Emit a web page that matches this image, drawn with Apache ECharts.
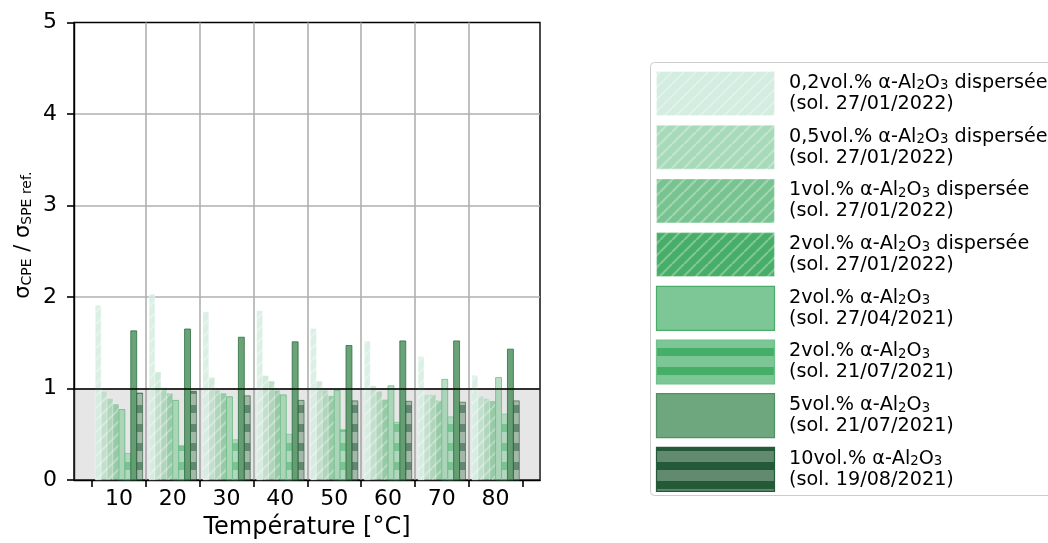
<!DOCTYPE html>
<html>
<head>
<meta charset="utf-8">
<script src="https://cdn.jsdelivr.net/npm/echarts@6/dist/echarts.min.js"></script>
<style>
html,body{margin:0;padding:0;background:#fff;}
#c{width:1048px;height:543px;}
</style>
</head>
<body>
<div id="c"></div>
<script>
// ---- data ----
const temps = [10, 20, 30, 40, 50, 60, 70, 80];
const gridTicks = [5, 15, 25, 35, 45, 55, 65, 75, 85];
const disp02 = [1.91, 2.03, 1.84, 1.85, 1.655, 1.52, 1.35, 1.145];
const disp05 = [0.97, 1.18, 1.12, 1.14, 1.08, 1.03, 0.935, 0.92];
const disp1 = [0.89, 1.01, 0.98, 1.08, 0.98, 0.97, 0.935, 0.89];
const disp2 = [0.83, 0.95, 0.95, 0.98, 0.92, 0.88, 0.87, 0.865];
const vol2_270421 = [0.77, 0.87, 0.91, 0.93, 0.98, 1.03, 1.10, 1.12];
const vol2_210721 = [0.29, 0.375, 0.44, 0.50, 0.55, 0.63, 0.69, 0.72];
const vol5_210721 = [1.63, 1.65, 1.56, 1.51, 1.47, 1.52, 1.52, 1.43];
const vol10_190821 = [0.95, 0.97, 0.92, 0.87, 0.865, 0.86, 0.85, 0.865];
const seriesValues = [disp02, disp05, disp1, disp2, vol2_270421, vol2_210721, vol5_210721, vol10_190821];
const legendLines = [
  ['0,2vol.% α-Al', '2', 'O', '3', ' dispersée', '(sol. 27/01/2022)'],
  ['0,5vol.% α-Al', '2', 'O', '3', ' dispersée', '(sol. 27/01/2022)'],
  ['1vol.% α-Al', '2', 'O', '3', ' dispersée', '(sol. 27/01/2022)'],
  ['2vol.% α-Al', '2', 'O', '3', ' dispersée', '(sol. 27/01/2022)'],
  ['2vol.% α-Al', '2', 'O', '3', '', '(sol. 27/04/2021)'],
  ['2vol.% α-Al', '2', 'O', '3', '', '(sol. 21/07/2021)'],
  ['5vol.% α-Al', '2', 'O', '3', '', '(sol. 21/07/2021)'],
  ['10vol.% α-Al', '2', 'O', '3', '', '(sol. 19/08/2021)']
];

// ---- styles ----
const FONT = "'DejaVu Sans', sans-serif";
const BAR_W = 1.1;
function rgba(c, a) { return 'rgba(' + c[0] + ',' + c[1] + ',' + c[2] + ',' + a + ')'; }
function diagPattern(base) {
  const c = document.createElement('canvas');
  c.width = 12; c.height = 12;
  const g = c.getContext('2d');
  g.fillStyle = base; g.fillRect(0, 0, 12, 12);
  g.strokeStyle = 'rgba(255,255,255,0.3)';
  g.lineWidth = 2.2;
  for (const k of [-12, 0, 12]) {
    g.beginPath(); g.moveTo(k, 12); g.lineTo(k + 12, 0); g.stroke();
  }
  return { image: c, repeat: 'repeat' };
}
function hPattern(light, dark) {
  const c = document.createElement('canvas');
  c.width = 8; c.height = 19;
  const g = c.getContext('2d');
  g.fillStyle = light; g.fillRect(0, 0, 8, 19);
  g.fillStyle = dark; g.fillRect(0, 6, 8, 8);
  return { image: c, repeat: 'repeat' };
}
const C = [
  { kind: 'd', main: [211, 237, 224], edge: [255, 255, 255], ea: 0.35, a: 0.85 },
  { kind: 'd', main: [166, 218, 185], edge: [255, 255, 255], ea: 0.35, a: 0.55 },
  { kind: 'd', main: [120, 196, 144], edge: [255, 255, 255], ea: 0.35, a: 0.5 },
  { kind: 'd', main: [71, 174, 104], edge: [255, 255, 255], ea: 0.35, a: 0.5 },
  { kind: 'p', main: [124, 199, 149], edge: [73, 173, 104], ea: 1, a: 0.55 },
  { kind: 'h', main: [124, 199, 149], dark: [70, 175, 103], edge: [110, 192, 138], ea: 1, a: 0.5 },
  { kind: 'p', main: [70, 140, 88], edge: [45, 110, 65], ea: 1, a: 0.8 },
  { kind: 'h', main: [97, 138, 110], dark: [36, 90, 55], edge: [36, 90, 55], ea: 1, a: 0.5 }
];
function fillFor(c, a) {
  if (c.kind === 'd') return diagPattern(rgba(c.main, a));
  if (c.kind === 'h') return hPattern(rgba(c.main, a), rgba(c.dark, a));
  return rgba(c.main, a);
}
const barStyles = C.map(c => ({ fill: fillFor(c, c.a), stroke: rgba(c.edge, c.ea * Math.max(c.a, 0.6)) }));
const legStyles = C.map(c => ({ fill: fillFor(c, 1), stroke: rgba(c.edge, c.ea) }));
legStyles[6].fill = 'rgb(110,166,125)';
legStyles[6].stroke = 'rgb(77,146,96)';

function makeRender(k) {
  return function (params, api) {
    const x = api.value(0) + (k - 3.5) * BAR_W;
    const y = api.value(1);
    const p1 = api.coord([x - BAR_W / 2, y]);
    const p2 = api.coord([x + BAR_W / 2, 0]);
    return {
      type: 'rect',
      shape: { x: p1[0], y: p1[1], width: p2[0] - p1[0], height: p2[1] - p1[1] },
      style: { fill: barStyles[k].fill, stroke: barStyles[k].stroke, lineWidth: 1 }
    };
  };
}

const series = [{
  type: 'line', data: [], z: 1, silent: true,
  markArea: { silent: true, itemStyle: { color: 'rgba(128,128,128,0.2)' }, data: [[{ yAxis: 0 }, { yAxis: 1 }]] }
}];
seriesValues.forEach((vals, k) => {
  series.push({
    type: 'custom', z: 3, silent: true,
    renderItem: makeRender(k),
    data: temps.map((t, i) => [t, vals[i]])
  });
});
series.push({
  type: 'line', data: [], z: 5, silent: true,
  markLine: { silent: true, symbol: 'none', label: { show: false },
    lineStyle: { color: '#000', width: 1.5, type: 'solid' }, data: [{ yAxis: 1 }] }
});

// ---- legend as graphics ----
const rich = {
  n: { fontSize: 19.2, fontFamily: FONT, color: '#000', lineHeight: 21, verticalAlign: 'bottom' },
  s: { fontSize: 13.3, fontFamily: FONT, color: '#000', lineHeight: 9, verticalAlign: 'bottom' }
};
const graphics = [{
  type: 'rect', shape: { x: 650.5, y: 62.5, width: 440, height: 433, r: 4 },
  style: { fill: '#fff', stroke: '#cccccc', lineWidth: 1 }, z: 10
}];
legendLines.forEach((L, i) => {
  const y0 = 71.5 + i * 53.7;
  graphics.push({
    type: 'rect', shape: { x: 656.5, y: y0, width: 118, height: 44 },
    style: { fill: legStyles[i].fill, stroke: legStyles[i].stroke, lineWidth: 1.2 }, z: 11
  });
  let t = '{n|' + L[0] + '}{s|' + L[1] + '}{n|' + L[2] + '}{s|' + L[3] + '}';
  if (L[4]) t += '{n|' + L[4] + '}';
  t += '\n{n|' + L[5] + '}';
  graphics.push({
    type: 'text', x: 789, y: y0 + 21, z: 11,
    style: { text: t, rich: rich, font: '19.2px ' + FONT, fill: '#000', verticalAlign: 'middle', align: 'left' }
  });
});

const chart = echarts.init(document.getElementById('c'), null, { renderer: 'canvas' });
chart.setOption({
  animation: false,
  grid: { left: 74, top: 22.5, width: 466, height: 457.5, show: true, borderColor: '#000', borderWidth: 1.4,
    backgroundColor: 'transparent', outerBoundsMode: 'none', containLabel: false },
  xAxis: {
    type: 'value', min: 1.65, max: 88.25,
    name: 'Température [°C]', nameLocation: 'middle', nameGap: 36,
    nameTextStyle: { fontSize: 24, fontFamily: FONT, color: '#000' },
    axisLine: { show: true, lineStyle: { color: '#000', width: 1.4 } },
    axisTick: { show: true, inside: false, length: 7, customValues: gridTicks, lineStyle: { color: '#000', width: 1.6 } },
    axisLabel: { customValues: temps, fontSize: 22, fontFamily: FONT, color: '#000', margin: 8 },
    splitLine: { show: true, showMinLine: false, showMaxLine: false, lineStyle: { color: '#b0b0b0', width: 1.6 } }
  },
  yAxis: {
    type: 'value', min: 0, max: 5, interval: 1,
    name: '{g|σ}{s|CPE}{g| / σ}{s|SPE ref.}', nameLocation: 'middle', nameGap: 40, nameRotate: 90,
    nameTextStyle: { fontSize: 21, fontFamily: FONT, color: '#000', padding: [0, 0, 0, 32],
      rich: { g: { fontSize: 21, fontFamily: FONT, color: '#000', lineHeight: 25, verticalAlign: 'bottom' },
              s: { fontSize: 14, fontFamily: FONT, color: '#000', lineHeight: 10, verticalAlign: 'bottom' } } },
    axisLine: { show: true, lineStyle: { color: '#000', width: 1.4 } },
    axisTick: { show: true, inside: false, length: 7, lineStyle: { color: '#000', width: 1.6 } },
    axisLabel: { fontSize: 22, fontFamily: FONT, color: '#000', margin: 17 },
    splitLine: { show: true, showMinLine: false, showMaxLine: false, lineStyle: { color: '#b0b0b0', width: 1.6 } }
  },
  series: series,
  graphic: graphics
});
</script>
</body>
</html>
